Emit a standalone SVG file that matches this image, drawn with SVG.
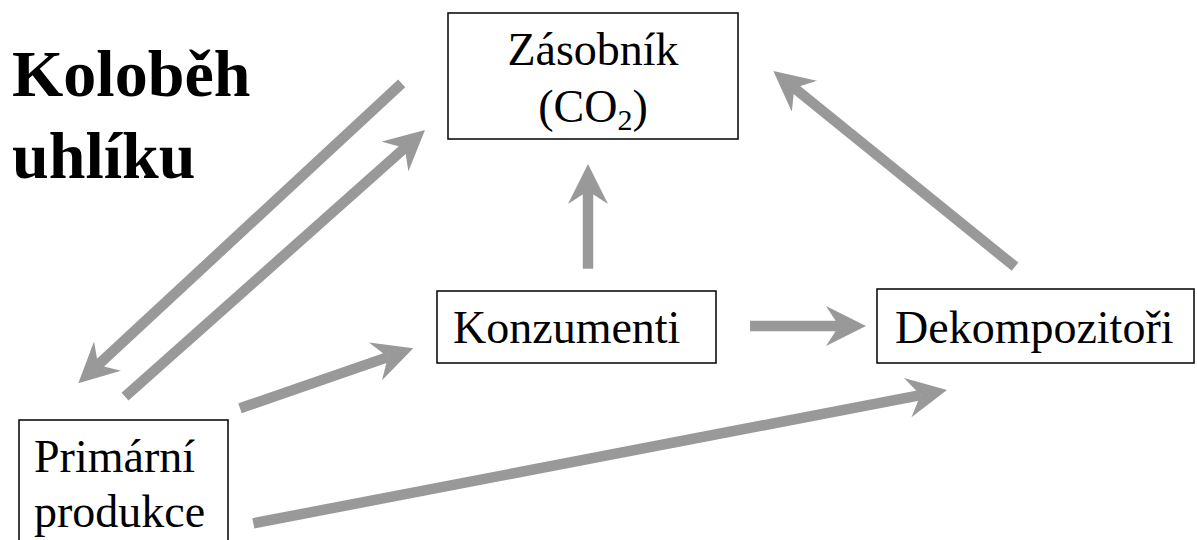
<svg xmlns="http://www.w3.org/2000/svg" width="1197" height="540" viewBox="0 0 1197 540">
<style>
.box{fill:#fff;stroke:#000;stroke-width:1.5}
.t{font-family:'Liberation Serif','Times New Roman',Tinos,'DejaVu Serif',serif;font-size:46px;fill:#000}
.title{font-family:'Liberation Serif','Times New Roman',Tinos,'DejaVu Serif',serif;font-size:66px;font-weight:bold;fill:#000}
.arr{stroke:#999999;stroke-width:10.5;fill:none;marker-end:url(#ah)}
</style>
<defs>
<marker id="ah" markerUnits="userSpaceOnUse" viewBox="0 0 40 40" markerWidth="40" markerHeight="40" refX="13" refY="20" orient="auto">
<path d="M0,0 L40,20 L0,40 L13,20 Z" fill="#999999"/>
</marker>
</defs>
<rect width="1197" height="540" fill="#fff"/>
<g id="title" font-family="Liberation Serif, Times New Roman, DejaVu Serif, serif">
<text class="title" x="12" y="96">Koloběh</text>
<text class="title" x="12" y="178">uhlíku</text>
</g>
<g id="connectors">
<line class="arr" x1="401.7" y1="83.3" x2="98.1" y2="364.9"/>
<line class="arr" x1="125" y1="396.7" x2="404.8" y2="147.9"/>
<line class="arr" x1="588" y1="268.7" x2="588" y2="191"/>
<line class="arr" x1="1015" y1="266.7" x2="794.3" y2="88"/>
<line class="arr" x1="750" y1="326" x2="839" y2="326"/>
<line class="arr" x1="240" y1="408.3" x2="387.8" y2="357.1"/>
<line class="arr" x1="253.3" y1="523.3" x2="920.5" y2="395.1"/>
</g>
<g id="zasobnik" font-family="Liberation Serif, Times New Roman, DejaVu Serif, serif">
<rect class="box" x="448" y="13" width="290" height="126"/>
<text class="t" x="593" y="65" text-anchor="middle">Zásobník</text>
<text class="t" x="593" y="122" text-anchor="middle">(CO<tspan font-size="30" dy="8">2</tspan><tspan dy="-8">)</tspan></text>
</g>
<g id="konzumenti" font-family="Liberation Serif, Times New Roman, DejaVu Serif, serif">
<rect class="box" x="437" y="291" width="279" height="72"/>
<text class="t" x="453" y="343">Konzumenti</text>
</g>
<g id="dekompozitori" font-family="Liberation Serif, Times New Roman, DejaVu Serif, serif">
<rect class="box" x="877" y="289" width="317" height="74"/>
<text class="t" x="895" y="343">Dekompozitoři</text>
</g>
<g id="primarni" font-family="Liberation Serif, Times New Roman, DejaVu Serif, serif">
<rect class="box" x="19" y="420" width="209" height="130"/>
<text class="t" x="34" y="472">Primární</text>
<text class="t" x="34" y="527">produkce</text>
</g>
</svg>
